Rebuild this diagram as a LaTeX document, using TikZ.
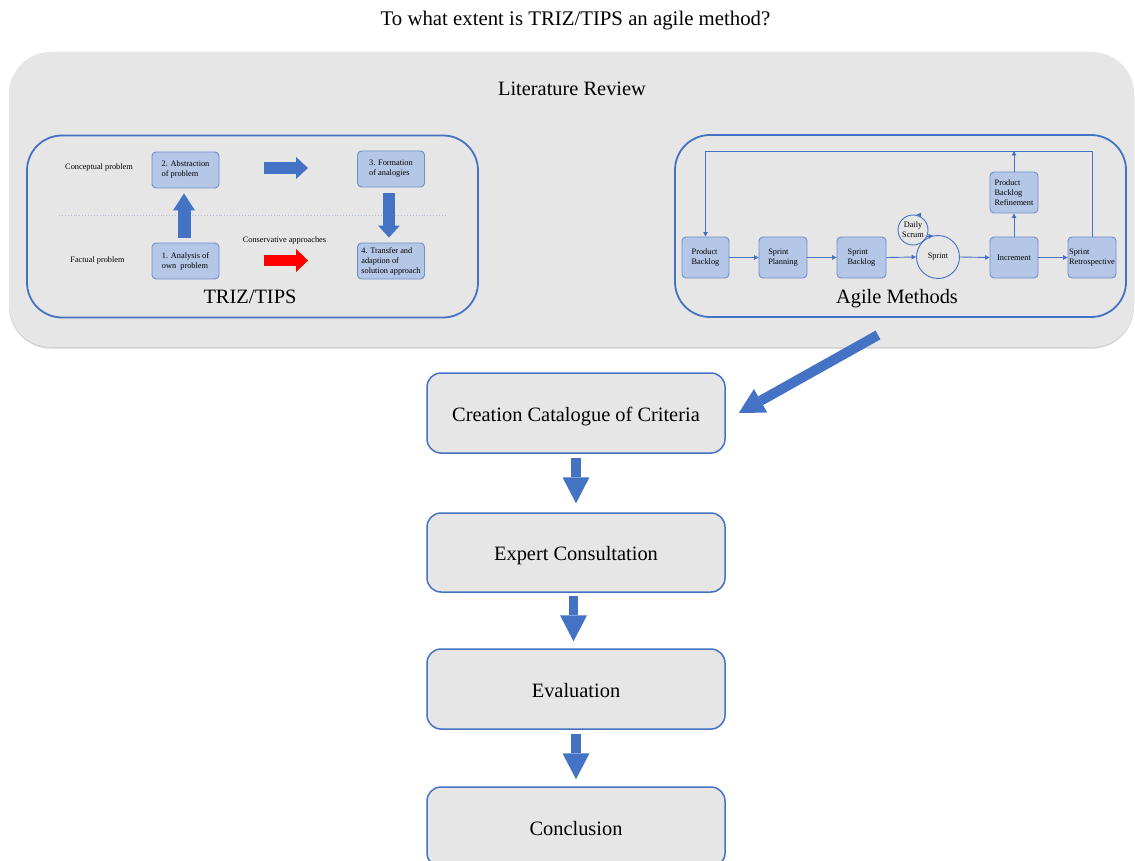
\documentclass[tikz,border=0pt]{standalone}
\usepackage{fontspec}
\setmainfont{Liberation Serif}
\usetikzlibrary{arrows.meta}
\definecolor{accent}{HTML}{4472C4}
\definecolor{lblue}{HTML}{B4C7E7}
\definecolor{pgrey}{HTML}{E6E6E6}
\definecolor{iborder}{HTML}{6F8FCA}
\definecolor{dotc}{HTML}{B0BCD4}
\definecolor{shad}{HTML}{D0D0D0}
\newcommand{\bigf}{\fontsize{20.4pt}{24pt}\selectfont}
\newcommand{\titf}{\fontsize{20.8pt}{24pt}\selectfont}
\newcommand{\smf}{\fontsize{8.3pt}{10pt}\selectfont}
\begin{document}
\begin{tikzpicture}[x=1pt,y=-1pt,
  frame/.style={draw=accent, line width=1.8pt, rounded corners=35pt, minimum width=451pt, minimum height=182pt, inner sep=0pt},
  ibox/.style={draw=iborder, fill=lblue, line width=0.9pt, rounded corners=4pt, minimum width=67pt, minimum height=36pt, align=left, font=\smf, inner sep=0pt},
  abox/.style={ibox, minimum width=48pt, minimum height=41pt},
  circ/.style={draw=accent, line width=0.9pt, circle, inner sep=0pt, align=center, font=\smf},
  lab/.style={font=\smf, inner sep=0pt},
  biglab/.style={font=\bigf, inner sep=0pt, anchor=base},
  stepbox/.style={draw=accent, fill=pgrey, line width=1.5pt, rounded corners=14pt, minimum width=298pt, minimum height=80pt, font=\bigf, text height=16pt, text depth=0pt},
  flow/.style={draw=accent, line width=0.9pt, -{Triangle[length=4.5pt,width=4.5pt]}},
  blk/.style={line width=12pt, draw=accent, -{Triangle[length=12pt,width=22pt,line width=0pt]}},
  blkup/.style={line width=13pt, draw=accent, -{Triangle[length=17pt,width=22pt,line width=0pt]}},
  redblk/.style={line width=11pt, draw=red, -{Triangle[length=12pt,width=23pt,line width=0pt]}},
  bigarr/.style={line width=9.5pt, draw=accent, -{Triangle[length=26pt,width=27pt,line width=0pt]}},
  diagarr/.style={line width=10pt, draw=accent, -{Triangle[length=25pt,width=27pt,line width=0pt]}}
]
\useasboundingbox (0,0) rectangle (1135,861);
\clip (0,0) rectangle (1135,861);
\fill[white] (0,0) rectangle (1135,861);

% title
\node[biglab, font=\titf] (title) at (575.5,25.5) {To what extent is TRIZ/TIPS an agile method?};

% literature review panel
\fill[shad, rounded corners=42pt] (9,53.5) rectangle (1134,348.5);
\fill[pgrey, rounded corners=42pt] (9,52) rectangle (1134,347);
\node[biglab] (lit) at (572,95.5) {Literature Review};

% TRIZ/TIPS frame
\node[frame] (trizframe) at (252.5,226.5) {};
\node[biglab] (triz) at (250,303) {TRIZ/TIPS};
\node[lab] (cp) at (99,168) {Conceptual problem};
\node[lab] (fp) at (97.5,261) {Factual problem};
\node[lab] (ca) at (284.5,241) {Conservative approaches};
\draw[dotc, dotted, line width=0.9pt] (59,215) -- (445,215);
\node[ibox] (b2) at (185.5,170) {2. Abstraction\\of problem};
\node[ibox] (b3) at (391,169) {3. Formation\\of analogies};
\node[ibox] (b1) at (185.5,261) {1. Analysis of\\own \ problem};
\node[ibox] (b4) at (391,261) {4. Transfer and\\adaption of\\solution approach};
\draw[blkup, shorten <=5pt, shorten >=5pt] ([xshift=-1.5pt]b1.north) -- ([xshift=-1.5pt]b2.south);
\draw[blk, shorten <=45pt, shorten >=49pt] ([yshift=2pt]b2.east) -- ([yshift=2pt]b2.east -| b3.west);
\draw[blk, shorten <=6pt, shorten >=5pt] ([xshift=-2pt]b3.south) -- ([xshift=-2pt]b4.north);
\draw[redblk, shorten <=45pt, shorten >=49pt] ([yshift=0.5pt]b1.east) -- ([yshift=0.5pt]b1.east -| b4.west);

% Agile frame
\node[frame] (agileframe) at (900.5,226) {};
\node[biglab] (agile) at (897,303) {Agile Methods};
\node[abox, minimum width=47pt] (pb) at (705.5,257.5) {Product\\Backlog};
\node[abox] (sp) at (783,257.5) {Sprint\\Planning};
\node[abox, minimum width=49pt] (sb) at (861.5,257.5) {Sprint\\Backlog};
\node[circ, minimum size=43pt] (sprint) at (938,257) {Sprint};
\node[circ, minimum size=30pt] (ds) at (913,230) {Daily\\Scrum};
\node[abox] (inc) at (1014,257.5) {Increment};
\node[abox] (retro) at (1092,257.5) {Sprint\\Retrospective};
\node[abox] (pbr) at (1014,192.5) {Product\\Backlog\\Refinement};
\coordinate (tl) at (705.5,151);
\draw[flow] (pb.east) -- (sp.west);
\draw[flow] (sp.east) -- (sb.west);
\draw[flow] (sb.east) -- (sprint.west);
\draw[flow] (sprint.east) -- (inc.west);
\draw[flow] (inc.east) -- (retro.west);
\draw[flow] (inc.north) -- (pbr.south);
\draw[flow] (pbr.north) -- (pbr.north |- tl);
\draw[flow] (retro.north) |- (tl) -- (pb.north);
\draw[flow] ([xshift=8pt,yshift=-0.6pt]ds.north) -- ([xshift=3.5pt]ds.north);
\draw[flow] (ds.-25) -- (sprint.103);

% lower flow
\node[stepbox] (creation) at (576,413) {Creation Catalogue of Criteria};
\node[stepbox, minimum height=79pt] (expert) at (576,552.5) {Expert Consultation};
\node[stepbox] (evaluation) at (576,689) {Evaluation};
\node[stepbox] (conclusion) at (576,827) {Conclusion};
\coordinate (dtail) at (878,335);
\draw[diagarr] (dtail) -- ([xshift=13pt]creation.east);
\draw[bigarr, shorten <=4pt, shorten >=9pt] (creation.south) -- (expert.north);
\draw[bigarr, shorten <=3pt, shorten >=7pt] ([xshift=-2.5pt]expert.south) -- ([xshift=-2.5pt]evaluation.north);
\draw[bigarr, shorten <=4pt, shorten >=7pt] (evaluation.south) -- (conclusion.north);
\end{tikzpicture}
\end{document}
